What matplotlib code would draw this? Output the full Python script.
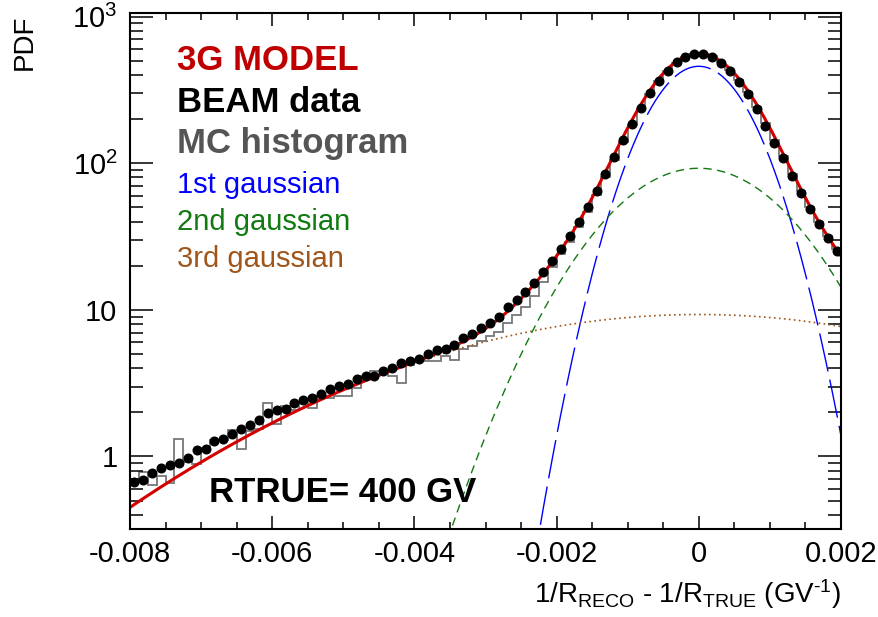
import numpy as np
import matplotlib
matplotlib.use('Agg')
import matplotlib.pyplot as plt
from matplotlib.ticker import MultipleLocator, LogLocator, FuncFormatter, NullFormatter

plt.rcParams['font.family'] = ['Liberation Sans', 'DejaVu Sans']
plt.rcParams['mathtext.fontset'] = 'custom'
plt.rcParams['mathtext.rm'] = 'Liberation Sans'
plt.rcParams['mathtext.it'] = 'Liberation Sans:italic'
plt.rcParams['mathtext.bf'] = 'Liberation Sans:bold'

# binning of the 1/R residual (80 bins)
x_min, x_max, n_bins = -0.008, 0.002, 80

# BEAM data (black points), one value per bin
beam_data = [
    0.668, 0.686, 0.775, 0.83, 0.88, 0.906, 0.98, 1.10, 1.12, 1.28,
    1.31, 1.43, 1.53, 1.65, 1.78, 1.98, 2.06, 2.12, 2.30, 2.41,
    2.51, 2.68, 2.89, 3.01, 3.12, 3.38, 3.52, 3.56, 3.85, 4.01,
    4.34, 4.50, 4.64, 5.02, 5.29, 5.40, 5.78, 6.42, 6.83, 7.51,
    8.12, 9.0, 10.4, 11.7, 13.2, 15.3, 18.0, 21.5, 25.9, 31.9,
    39.5, 50.0, 64.5, 84.5, 110, 145, 186, 239, 301, 367,
    429, 489, 534, 557, 557, 534, 484, 425, 361, 295,
    233, 181, 138, 108, 82, 62.8, 48.6, 38.5, 30.8, 25.3,
]

# MC histogram (grey steps)
mc_hist = [
    0.70, 0.78, 0.64, 0.73, 0.66, 1.31, 0.92, 0.89, 1.15, 1.30,
    1.30, 1.51, 1.12, 1.49, 1.54, 2.32, 1.67, 2.20, 2.09, 2.32,
    2.14, 2.57, 2.50, 2.57, 2.57, 2.93, 3.52, 3.84, 3.84, 3.52,
    3.17, 4.23, 4.45, 4.45, 4.45, 4.81, 4.57, 5.40, 5.63, 6.09,
    6.59, 7.12, 8.12, 9.25, 10.5, 12.5, 15.5, 19.7, 24.0, 29.1,
    36.8, 46.5, 60.6, 80.5, 106, 140, 183, 236, 298, 362,
    425, 486, 532, 556, 555, 536, 492, 435, 372, 306,
    243, 189, 145, 112, 85, 65, 50, 40, 32, 26,
]

# 3-gaussian model parameters (all centred at 0)
g_amp = [459.0, 92.5, 9.3]
g_sigma = [5.87e-4, 1.034e-3, 3.25e-3]
g_colors = ['#0000ff', '#117a11', '#a0561a']
g_labels = ['1st gaussian', '2nd gaussian', '3rd gaussian']

edges = np.linspace(x_min, x_max, n_bins + 1)
centers = 0.5 * (edges[:-1] + edges[1:])
xf = np.linspace(x_min, x_max, 1000)


def gauss(x, a, s):
    return a * np.exp(-0.5 * (x / s) ** 2)


W, H = 879, 617
fig = plt.figure(figsize=(W / 100, H / 100), dpi=100)
ax = fig.add_axes([130 / W, 1 - 529 / H, (841 - 130) / W, (529 - 13) / H])

ax.stairs(mc_hist, edges, baseline=None, color='#777777', lw=1.3)

comps = [gauss(xf, a, s) for a, s in zip(g_amp, g_sigma)]
ax.plot(xf, comps[0], color=g_colors[0], lw=1.0, dashes=(28, 6))
ax.plot(xf, comps[1], color=g_colors[1], lw=1.0, dashes=(6, 4))
ax.plot(xf, comps[2], color=g_colors[2], lw=1.2, dashes=(1, 2))
ax.plot(xf, comps[0] + comps[1] + comps[2], color='#d40000', lw=2.2)

ax.plot(centers, beam_data, 'o', color='black', ms=6.2, mec='black')

ax.set_yscale('log')
ax.set_xlim(x_min, x_max)
ax.set_ylim(0.32, 1060)

ax.xaxis.set_major_locator(MultipleLocator(0.002))
ax.xaxis.set_minor_locator(MultipleLocator(0.0005))
ax.xaxis.set_major_formatter(FuncFormatter(lambda v, p: '0' if abs(v) < 1e-9 else f'{v:g}'))


def ylab(v, p):
    if abs(v - 1) < 1e-9:
        return '1'
    if abs(v - 10) < 1e-9:
        return '10'
    return r'$\mathregular{10^{%d}}$' % round(np.log10(v))


ax.yaxis.set_major_locator(LogLocator(base=10, numticks=10))
ax.yaxis.set_minor_locator(LogLocator(base=10, subs=np.arange(2, 10), numticks=20))
ax.yaxis.set_major_formatter(FuncFormatter(ylab))
ax.yaxis.set_minor_formatter(NullFormatter())

ax.tick_params(axis='both', which='both', direction='in', top=True, right=True, width=1.1)
ax.tick_params(axis='x', which='major', length=9.4, labelsize=21, pad=8)
ax.tick_params(axis='x', which='minor', length=4.7)
ax.tick_params(axis='y', which='major', length=16.5, labelsize=21, pad=9)
ax.tick_params(axis='y', which='minor', length=9.4)
for sp in ax.spines.values():
    sp.set_linewidth(1.5)

# legend-like texts
tx = 177 / W
fig.text(tx, 1 - 70 / H, '3G MODEL', color='#c00000', fontsize=25, fontweight='bold', va='baseline')
fig.text(tx, 1 - 112 / H, 'BEAM data', color='black', fontsize=25, fontweight='bold', va='baseline')
fig.text(tx, 1 - 153 / H, 'MC histogram', color='#555555', fontsize=25, fontweight='bold', va='baseline')
for lbl, col, yb in zip(g_labels, g_colors, [193, 230, 267]):
    fig.text(tx, 1 - yb / H, lbl, color=col, fontsize=21, va='baseline')

fig.text(209 / W, 1 - 502 / H, 'RTRUE= 400 GV', color='black', fontsize=25, fontweight='bold', va='baseline')

fig.text(841 / W, 1 - 603 / H,
         r'1/R$_{\mathregular{RECO}}$ - 1/R$_{\mathregular{TRUE}}$ (GV$^{\text{-1}}$)',
         fontsize=20, ha='right', va='baseline')
fig.text(25 / W, 1 - 15 / H, 'PDF', fontsize=20, rotation=90, ha='center', va='top')

fig.savefig('out.png', dpi=100)
